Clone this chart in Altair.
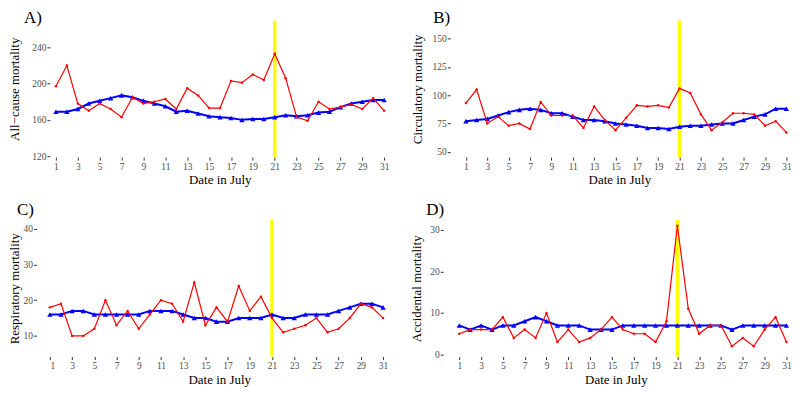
import altair as alt
import pandas as pd

days = list(range(1, 32))
event_day = [21]

allcause_obs = [197, 220, 178, 170, 178, 172, 163, 185, 178, 180, 183, 172, 195, 187, 173, 173,
                203, 201, 210, 204, 233, 206, 163, 159, 180, 172, 174, 177, 172, 184, 170]
allcause_exp = [169, 169, 172, 178, 181, 184, 187, 185, 181, 178, 175, 169, 170, 167, 164, 163,
                162, 160, 161, 161, 163, 165, 164, 165, 168, 169, 174, 178, 180, 182, 182]
circ_obs = [93, 105, 75, 81, 73, 75, 70, 94, 82, 82, 82, 71, 90, 78, 69, 80,
            91, 90, 91, 89, 106, 102, 83, 69, 76, 84, 84, 83, 73, 77, 67]
circ_exp = [77, 78, 79, 82, 85, 87, 88, 87, 84, 84, 81, 78, 78, 77, 75, 74,
            73, 71, 71, 70, 72, 73, 73, 74, 75, 75, 78, 81, 83, 88, 88]
resp_obs = [18, 19, 10, 10, 12, 20, 13, 17, 12, 16, 20, 19, 14, 25, 13, 18,
            14, 24, 17, 21, 15, 11, 12, 13, 15, 11, 12, 15, 19, 18, 15]
resp_exp = [16, 16, 17, 17, 16, 16, 16, 16, 16, 17, 17, 17, 16, 15, 15, 14,
            14, 15, 15, 15, 16, 15, 15, 16, 16, 16, 17, 18, 19, 19, 18]
acc_obs = [5, 6, 6, 6, 9, 4, 6, 4, 10, 3, 6, 3, 4, 6, 9, 6,
           5, 5, 3, 8, 31, 11, 5, 7, 7, 2, 4, 2, 6, 9, 3]
acc_exp = [7, 6, 7, 6, 7, 7, 8, 9, 8, 7, 7, 7, 6, 6, 6, 7,
           7, 7, 7, 7, 7, 7, 7, 7, 7, 6, 7, 7, 7, 7, 7]

x_ticks = list(range(1, 32, 2))
FONT = "Liberation Serif"
H = 137


def panel(obs, exp, ytitle, tag, ydom, yticks, xdom, width, tag_dx, tag_dy, ytp, yoff=0):
    df = pd.DataFrame({"day": days, "obs": obs, "exp": exp})
    xenc = alt.X("day:Q",
                 scale=alt.Scale(domain=xdom, nice=False, zero=False),
                 axis=alt.Axis(values=x_ticks, title="Date in July", titlePadding=3,
                               labelPadding=1))
    yscale = alt.Scale(domain=ydom, nice=False, zero=False)
    yaxis = alt.Axis(values=yticks, title=ytitle, titlePadding=ytp, labelPadding=1,
                     offset=yoff)
    ev = alt.Chart(pd.DataFrame({"day": event_day})).mark_rule(
        color="#FFFF00", strokeWidth=3.5).encode(x=xenc)
    blue = alt.Chart(df).mark_line(
        color="#0000FF", strokeWidth=2,
        point=alt.OverlayMarkDef(shape="triangle-up", size=28, filled=True, color="#0000FF", opacity=1)
    ).encode(x=xenc, y=alt.Y("exp:Q", scale=yscale, axis=yaxis))
    red = alt.Chart(df).mark_line(
        color="#FF0000", strokeWidth=1.2,
        point=alt.OverlayMarkDef(size=6, filled=True, color="#FF0000", opacity=1)
    ).encode(x=xenc, y=alt.Y("obs:Q", scale=yscale, axis=yaxis))
    return alt.layer(ev, blue, red).properties(
        width=width, height=H,
        title=alt.TitleParams(tag, anchor="start", frame="group", dx=tag_dx, dy=tag_dy, offset=-4,
                              fontSize=17, font=FONT, fontWeight="normal", color="black"),
    )


pA = panel(allcause_obs, allcause_exp, "All\u2212cause mortality", "A)",
           [118.9, 269.7], [120, 160, 200, 240], [0.45, 31.5], 340.6, -26, 4, 10)
pB = panel(circ_obs, circ_exp, "Circulatory mortality", "B)",
           [45.2, 166.1], [50, 75, 100, 125, 150], [-0.466, 31.19], 339, -17, 4, 8)
pC = panel(resp_obs, resp_exp, "Respiratory mortality", "C)",
           [4.2, 42.5], [10, 20, 30, 40], [1.0, 31.5], 339.6, -33, -3, 1, yoff=13.5)
pD = panel(acc_obs, acc_exp, "Accidental mortality", "D)",
           [-0.5, 32.4], [0, 10, 20, 30], [-0.464, 31.18], 346, -17, -3, 6)

row1 = alt.hconcat(pA, pB, spacing=60.4, bounds="flush")
row2 = alt.hconcat(pC, pD, spacing=54.4, bounds="flush")

chart = alt.vconcat(row1, row2, spacing=14).properties(
    padding={"left": 0, "top": 0, "right": 0, "bottom": 0},
    background="white",
).configure_view(stroke=None).configure_axis(
    grid=False, domain=False,
    labelFont=FONT, labelFontSize=9.5, labelColor="#4D4D4D",
    tickColor="#333333", tickSize=3, tickWidth=1,
    titleFont=FONT, titleFontSize=13, titleFontWeight="normal", titleColor="black",
)

chart.save("out.html", embed_options={"renderer": "svg", "actions": False})
